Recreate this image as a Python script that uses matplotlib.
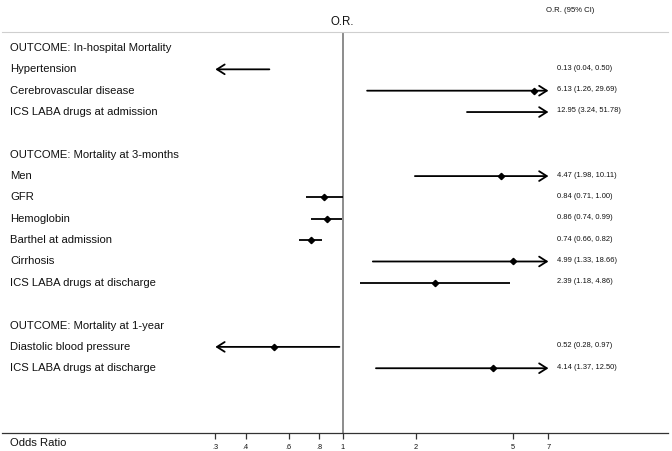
import numpy as np
import matplotlib
matplotlib.use("Agg")
import matplotlib.pyplot as plt

plt.rcParams['font.family'] = ['Liberation Sans', 'DejaVu Sans']

labels = ["OUTCOME: In-hospital Mortality", "Hypertension", "Cerebrovascular disease",
          "ICS LABA drugs at admission", "",
          "OUTCOME: Mortality at 3-months", "Men", "GFR", "Hemoglobin",
          "Barthel at admission", "Cirrhosis", "ICS LABA drugs at discharge", "",
          "OUTCOME: Mortality at 1-year", "Diastolic blood pressure",
          "ICS LABA drugs at discharge"]
nan = np.nan
odds = [nan, 0.13, 6.13, 12.95, nan, nan, 4.47, 0.84, 0.86, 0.74, 4.99, 2.39, nan, nan, 0.52, 4.14]
ci_low = [nan, 0.04, 1.26, 3.24, nan, nan, 1.98, 0.71, 0.74, 0.66, 1.33, 1.18, nan, nan, 0.28, 1.37]
ci_high = [nan, 0.50, 29.69, 51.78, nan, nan, 10.11, 1.00, 0.99, 0.82, 18.66, 4.86, nan, nan, 0.97, 12.50]

tick_vals = [0.3, 0.4, 0.6, 0.8, 1, 2, 5, 7]
tick_labels = [".3", ".4", ".6", ".8", "1", "2", "5", "7"]
x_min, x_max = 0.3, 7  # CI truncation range

W, H = 672, 451
fig = plt.figure(figsize=(W / 100, H / 100), dpi=100)
# axes: from the top grey rule to the bottom axis line
ax = fig.add_axes([2 / W, (H - 432.5) / H, 666 / W, (432.5 - 31.7) / H])
ax.set_xscale('log')
ax.set_xlim(0.0399, 21.68)
ax.set_ylim(18.01, -0.763)

for s in ['left', 'right']:
    ax.spines[s].set_visible(False)
ax.spines['top'].set_color('#cfcfcf')
ax.spines['top'].set_linewidth(0.8)
ax.spines['bottom'].set_color('#333333')
ax.spines['bottom'].set_linewidth(0.9)
ax.set_yticks([])
ax.set_xticks(tick_vals)
ax.set_xticklabels(tick_labels)
ax.xaxis.set_minor_locator(matplotlib.ticker.NullLocator())
ax.tick_params(axis='x', direction='out', length=4.3, width=0.9, color='#333333',
               labelsize=5.3, pad=4.2, labelcolor='#111111')

ax.axvline(1, color='#6e6e6e', lw=1.1, zorder=1)

arrow_kw = dict(lw=1.3, color='black', shrinkA=0, shrinkB=0,
                arrowstyle='->,head_length=0.55,head_width=0.35', mutation_scale=10)

for i, lab in enumerate(labels):
    ax.text(0.012, i, lab, transform=ax.get_yaxis_transform(), fontsize=8.1,
            va='center', ha='left', color='#111111')
    if np.isnan(odds[i]):
        continue
    lo, hi, o = ci_low[i], ci_high[i], odds[i]
    a, b = max(lo, x_min), min(hi, x_max)
    if lo < x_min:
        ax.annotate('', xy=(a, i), xytext=(b, i), arrowprops=arrow_kw)
    if hi > x_max:
        ax.annotate('', xy=(b, i), xytext=(a, i), arrowprops=arrow_kw)
    if lo >= x_min and hi <= x_max:
        ax.plot([a, b], [i, i], color='black', lw=1.3, solid_capstyle='butt')
    if x_min <= o <= x_max:
        ax.plot([o], [i], marker='D', color='black', markersize=3.2, zorder=3)
    ax.text(0.8333, i - 0.05, f"{o:.2f} ({lo:.2f}, {hi:.2f})",
            transform=ax.get_yaxis_transform(), fontsize=5.4, va='center', ha='left',
            color='#111111')

fig.text(342.7 / W, 1 - 22 / H, "O.R.", fontsize=8.3, ha='center', va='center', color='#111111')
fig.text(546 / W, 1 - 10.5 / H, "O.R. (95% CI)", fontsize=5.6, ha='left', va='center',
         color='#111111')
fig.text(10 / W, 1 - 442.5 / H, "Odds Ratio", fontsize=8.1, ha='left', va='center',
         color='#111111')

fig.savefig("out.png", dpi=100)
